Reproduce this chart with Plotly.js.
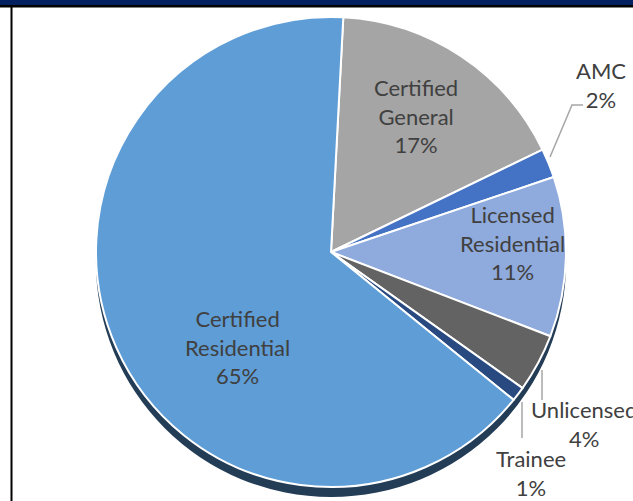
<!DOCTYPE html>
<html>
<head>
<meta charset="utf-8">
<script src="https://cdn.plot.ly/plotly-3.0.1.min.js"></script>
<style>
  html, body { margin: 0; padding: 0; background: #ffffff; }
  #chart { width: 633px; height: 501px; }
</style>
</head>
<body>
<div id="chart"></div>
<script>
// ---- data ----
const categories = ["Certified General", "AMC", "Licensed Residential", "Unlicensed", "Trainee", "Certified Residential"];
const labelLines = [["Certified", "General"], ["AMC"], ["Licensed", "Residential"], ["Unlicensed"], ["Trainee"], ["Certified", "Residential"]];
const percents = [17, 2, 11, 4, 1, 65];
const sliceColors = ["#A5A5A5", "#4472C4", "#8FAADC", "#636363", "#284A80", "#5E9DD6"];

// ---- layout helpers (positions in pixels) ----
const W = 633, H = 501;
const cx = 331, cy = 252, r = 235, shadowDrop = 10;
const px = x => x / W;
const py = y => 1 - y / H;

// label centre positions (pixels) in the same order as categories
const labelPos = [[416, 116], [601, 85], [512, 243], [584, 424], [531, 473], [237, 347]];

const mainPie = {
  type: "pie",
  values: percents,
  labels: categories,
  sort: false,
  direction: "clockwise",
  rotation: 3,
  marker: { colors: sliceColors, line: { color: "#ffffff", width: 2 } },
  textinfo: "none",
  hoverinfo: "label+percent",
  showlegend: false,
  domain: { x: [px(cx - r), px(cx + r)], y: [py(cy + r), py(cy - r)] }
};

const shadowPie = {
  type: "pie",
  values: [1],
  labels: ["shadow"],
  sort: false,
  marker: { colors: ["#243D57"], line: { color: "#243D57", width: 0 } },
  textinfo: "none",
  hoverinfo: "skip",
  showlegend: false,
  domain: { x: [px(cx - r), px(cx + r)], y: [py(cy + r + shadowDrop), py(cy - r + shadowDrop)] }
};

const annotations = categories.map((c, i) => ({
  xref: "paper", yref: "paper",
  x: px(labelPos[i][0]), y: py(labelPos[i][1]),
  xanchor: "center", yanchor: "middle",
  text: labelLines[i].join("<br>") + "<br>" + percents[i] + "%",
  showarrow: false,
  align: "center",
  font: { family: "Lato, 'Noto Sans', sans-serif", size: 22, color: "#404040" }
}));

const leader = { color: "#A6A6A6", width: 1.5 };
const shapes = [
  // leader lines
  { type: "path", xref: "paper", yref: "paper",
    path: `M ${px(550)} ${py(157)} L ${px(572)} ${py(105)} L ${px(583)} ${py(105)}`, line: leader },
  { type: "line", xref: "paper", yref: "paper", x0: px(542), x1: px(542), y0: py(370), y1: py(400), line: leader },
  { type: "line", xref: "paper", yref: "paper", x0: px(522), x1: px(522), y0: py(402), y1: py(438), line: leader },
  // frame: navy header band, black rule, left border
  { type: "rect", xref: "paper", yref: "paper", x0: 0, x1: 1, y0: py(5), y1: 1, fillcolor: "#002060", line: { width: 0 }, layer: "above" },
  { type: "rect", xref: "paper", yref: "paper", x0: 0, x1: 1, y0: py(7.5), y1: py(5), fillcolor: "#000000", line: { width: 0 }, layer: "above" },
  { type: "rect", xref: "paper", yref: "paper", x0: px(10.5), x1: px(12.5), y0: 0, y1: py(6), fillcolor: "#000000", line: { width: 0 }, layer: "above" }
];

const layout = {
  width: W, height: H,
  margin: { l: 0, r: 0, t: 0, b: 0 },
  paper_bgcolor: "#ffffff",
  showlegend: false,
  annotations: annotations,
  shapes: shapes
};

Plotly.newPlot("chart", [shadowPie, mainPie], layout, { displayModeBar: false, staticPlot: true });
</script>
</body>
</html>
